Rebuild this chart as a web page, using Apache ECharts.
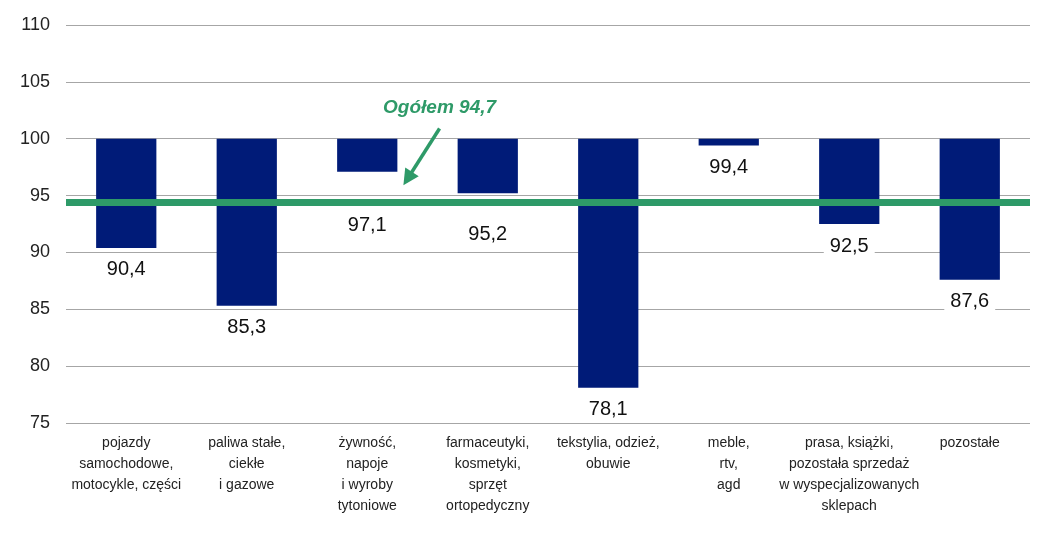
<!DOCTYPE html>
<html><head><meta charset="utf-8">
<script src="https://cdn.jsdelivr.net/npm/echarts@6/dist/echarts.min.js"></script>
<style>html,body{margin:0;padding:0;background:#fff}#c{width:1038px;height:536px}</style>
</head><body><div id="c"></div>
<script>
const categories = ["pojazdy\nsamochodowe,\nmotocykle, części","paliwa stałe,\nciekłe\ni gazowe","żywność,\nnapoje\ni wyroby\ntytoniowe","farmaceutyki,\nkosmetyki,\nsprzęt\nortopedyczny","tekstylia, odzież,\nobuwie","meble,\nrtv,\nagd","prasa, książki,\npozostała sprzedaż\nw wyspecjalizowanych\nsklepach","pozostałe"];
const values = [90.4, 85.3, 97.1, 95.2, 78.1, 99.4, 92.5, 87.6];
const baseLevel = 100;
const totalLinePos = 94.4;   // where the "Ogółem" line is drawn in the picture
const totalLabel = "Ogółem 94,7";
const yTicks = {min: 75, max: 110, interval: 5};

const fmt = v => v.toFixed(1).replace('.', ',');
// labels pushed below the green line for bars ending near it
const labelDist = values.map(v => v > totalLinePos && v < 98 ? (v > 96 ? 42 : 29) : 10);

const chart = echarts.init(document.getElementById('c'));
chart.setOption({
  animation: false,
  grid: {left: 66, right: 8, top: 25, bottom: 113},
  xAxis: {
    type: 'category', data: categories,
    axisLine: {show: false}, axisTick: {show: false},
    axisLabel: {fontFamily: 'Liberation Sans, Arial', fontSize: 14, color: '#222', lineHeight: 21, margin: 10, interval: 0, verticalAlign: 'top'}
  },
  yAxis: {
    type: 'value', min: yTicks.min, max: yTicks.max, interval: yTicks.interval,
    axisLine: {show: false}, axisTick: {show: false},
    axisLabel: {fontFamily: 'Liberation Sans, Arial', fontSize: 18, color: '#222', margin: 16},
    splitLine: {lineStyle: {color: '#a6a6a6', width: 1}}
  },
  series: [
    {type: 'bar', stack: 's', data: values, itemStyle: {color: 'transparent'}, barWidth: '50%', silent: true},
    {type: 'bar', stack: 's', barWidth: '50%',
     data: values.map((v, i) => ({value: +(baseLevel - v).toFixed(1), label: {distance: labelDist[i]}})),
     itemStyle: {color: '#001b78'},
     label: {show: true, position: 'bottom', formatter: p => fmt(values[p.dataIndex]),
       fontFamily: 'Liberation Sans, Arial', fontSize: 20, color: '#111', backgroundColor: '#fff', padding: [2, 6, 0, 6]},
     markLine: {silent: true, symbol: 'none', label: {show: false},
       lineStyle: {color: '#2e9a68', width: 7, type: 'solid'},
       data: [{yAxis: totalLinePos}]}
    }
  ]
});
function px(idx, val) {
  const i = Math.floor(idx), f = idx - i;
  const p0 = chart.convertToPixel({xAxisIndex: 0, yAxisIndex: 0}, [i, val]);
  const p1 = chart.convertToPixel({xAxisIndex: 0, yAxisIndex: 0}, [i + 1, val]);
  return [p0[0] + f * (p1[0] - p0[0]), p0[1]];
}
function annot() {
  const t = px(2.6, 102.7);
  const a0 = px(2.6, 100.9);
  const a1 = px(2.3, 95.9);
  const dx = a1[0] - a0[0], dy = a1[1] - a0[1], L = Math.hypot(dx, dy);
  const ux = dx / L, uy = dy / L, hl = 16, hw = 8;
  const bx = a1[0] - ux * hl, by = a1[1] - uy * hl;
  chart.setOption({graphic: [
    {type: 'text', x: t[0], y: t[1], style: {text: totalLabel, fill: '#2e9a68', font: 'italic bold 19px "Liberation Sans", Arial', align: 'center', verticalAlign: 'middle'}},
    {type: 'line', shape: {x1: a0[0], y1: a0[1], x2: bx + ux * 2, y2: by + uy * 2}, style: {stroke: '#2e9a68', lineWidth: 3.5}},
    {type: 'polygon', shape: {points: [[a1[0], a1[1]], [bx - uy * hw, by + ux * hw], [bx + uy * hw, by - ux * hw]]}, style: {fill: '#2e9a68'}}
  ]});
}
annot();
</script></body></html>
